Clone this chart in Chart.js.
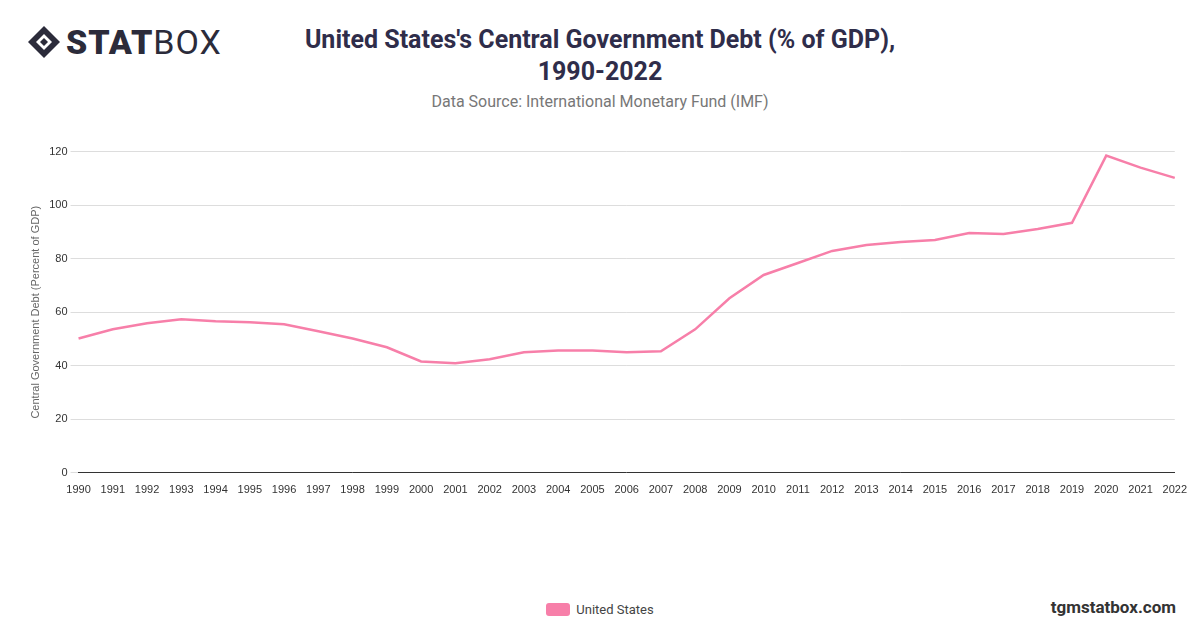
<!DOCTYPE html>
<html><head><meta charset="utf-8">
<script src="https://cdn.jsdelivr.net/npm/chart.js@4"></script>
<style>
body{margin:0;width:1200px;height:628px;background:#fff;font-family:Roboto,"Open Sans",sans-serif;position:relative;overflow:hidden}
#logo{position:absolute;left:26px;top:22px;font-size:34px;color:#2b2b3a;letter-spacing:1px;display:flex;align-items:center}
#logo b{font-weight:900}
#title{position:absolute;left:0;width:1200px;top:24px;text-align:center;font-size:25px;font-weight:700;color:#2f2d4a;line-height:32px}
#src{position:absolute;left:0;width:1200px;top:92px;text-align:center;font-size:16px;color:#777}
#wrap{position:absolute;left:25px;top:142px;width:1165px;height:358px}
#leg{position:absolute;top:602px;left:0;width:1200px;text-align:center;font-size:13px;color:#444}
#leg span{display:inline-block;width:24px;height:13px;background:#f77fa9;border-radius:3px;vertical-align:-2px;margin-right:6px}
#brand{position:absolute;right:24px;top:597px;font-size:17px;font-weight:700;color:#333}
</style></head><body>
<div id="logo"><svg width="36" height="36" viewBox="0 0 36 36" style="margin-right:4px"><path d="M18 2 L34 18 L18 34 L2 18Z" fill="#2b2b3a"/><path d="M18 10 L26 18 L18 26 L10 18Z" fill="#fff"/><path d="M18 14 L22 18 L18 22 L14 18Z" fill="#2b2b3a"/></svg><b>STAT</b>BOX</div>
<div id="title">United States's Central Government Debt (% of GDP),<br>1990-2022</div>
<div id="src">Data Source: International Monetary Fund (IMF)</div>
<div id="wrap"><canvas id="c"></canvas></div>
<div id="leg"><span></span>United States</div>
<div id="brand">tgmstatbox.com</div>
<script>
const years=[];for(let y=1990;y<=2022;y++)years.push(String(y));
const debt=[50.2,53.6,55.9,57.4,56.6,56.2,55.5,52.9,50.2,46.9,41.6,40.9,42.4,45,45.7,45.7,45,45.4,53.6,65.2,73.9,78.4,82.9,85.1,86.2,87,89.6,89.2,91.1,93.4,118.5,114,110.2];
const yTicks=[0,20,40,60,80,100,120];
new Chart(document.getElementById('c'),{type:'line',
data:{labels:years,datasets:[{label:'United States',data:debt,borderColor:'#f77fa9',backgroundColor:'#f77fa9',borderWidth:2.5,pointRadius:0,tension:0}]},
options:{responsive:true,maintainAspectRatio:false,animation:false,
plugins:{legend:{display:false}},
layout:{padding:{top:6}},
scales:{x:{grid:{display:false},border:{color:'#333'},ticks:{color:'#333',font:{size:11},maxRotation:0,autoSkip:false}},
y:{min:0,max:120,afterBuildTicks:a=>{a.ticks=yTicks.map(v=>({value:v}))},grid:{color:'#ddd'},border:{display:false},ticks:{color:'#333',font:{size:11}},
title:{display:true,text:'Central Government Debt (Percent of GDP)',color:'#666',font:{size:11}}}}}});
</script></body></html>
